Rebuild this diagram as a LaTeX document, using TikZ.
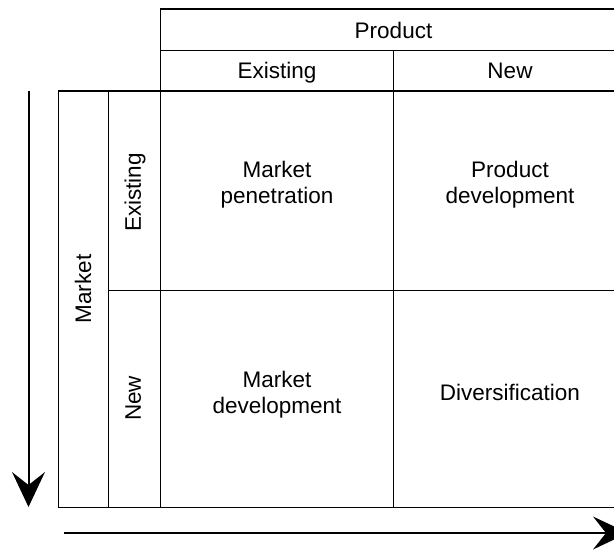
\documentclass[tikz,border=0pt]{standalone}
\usepackage{fontspec}
\setmainfont{Liberation Sans}
\usetikzlibrary{arrows.meta}
\begin{document}
\begin{tikzpicture}[x=1pt,y=-1pt,
  cell/.style={draw,line width=1.3pt,inner sep=0pt,anchor=center},
  lbl/.style={inner sep=0pt,anchor=base,align=center,font=\fontsize{22.5}{26}\selectfont},
  axis/.style={line width=2pt,-{Stealth[length=35pt,width=33pt,inset=13pt,line width=0pt]}}]
\useasboundingbox (0,0) rectangle (614,550);
\clip (0,0) rectangle (614,550);
% header cells
\node[cell,minimum width=466pt,minimum height=41.5pt] (product) at (393.5,29.75) {};
\node[cell,minimum width=233pt,minimum height=40.5pt] (pexist) at (277,70.75) {};
\node[cell,minimum width=233pt,minimum height=40.5pt] (pnew) at (510,70.75) {};
% market side cells
\node[cell,minimum width=50pt,minimum height=416.7pt] (market) at (83.5,299.35) {};
\node[cell,minimum width=52pt,minimum height=199.7pt] (mexist) at (134.5,190.85) {};
\node[cell,minimum width=52pt,minimum height=217pt] (mnew) at (134.5,399.2) {};
% quadrant cells
\node[cell,minimum width=233pt,minimum height=199.7pt] (c11) at (277,190.85) {};
\node[cell,minimum width=233pt,minimum height=199.7pt] (c12) at (510,190.85) {};
\node[cell,minimum width=233pt,minimum height=217pt] (c21) at (277,399.2) {};
\node[cell,minimum width=233pt,minimum height=217pt] (c22) at (510,399.2) {};
% labels
\node[lbl] (tproduct) at (393.5,38.3) {Product};
\node[lbl] (tpexist) at (277,78.3) {Existing};
\node[lbl] (tpnew) at (510,78.3) {New};
\node[lbl,rotate=90] (tmarket) at (91.2,289) {Market};
\node[lbl,rotate=90] (tmexist) at (140.8,192.4) {Existing};
\node[lbl,rotate=90] (tmnew) at (140.8,398.3) {New};
\node[lbl] (t11) at (277,203.3) {Market\\penetration};
\node[lbl] (t12) at (510,203.3) {Product\\development};
\node[lbl] (t21) at (277,413.3) {Market\\development};
\node[lbl] (t22) at (510,400.7) {Diversification};
% axes
\coordinate (vs) at (28.5,90.5);
\coordinate (ve) at (28.5,507);
\coordinate (hs) at (64,533);
\coordinate (he) at (628,533);
\draw[axis] (vs) -- (ve);
\draw[axis] (hs) -- (he);
\end{tikzpicture}
\end{document}
